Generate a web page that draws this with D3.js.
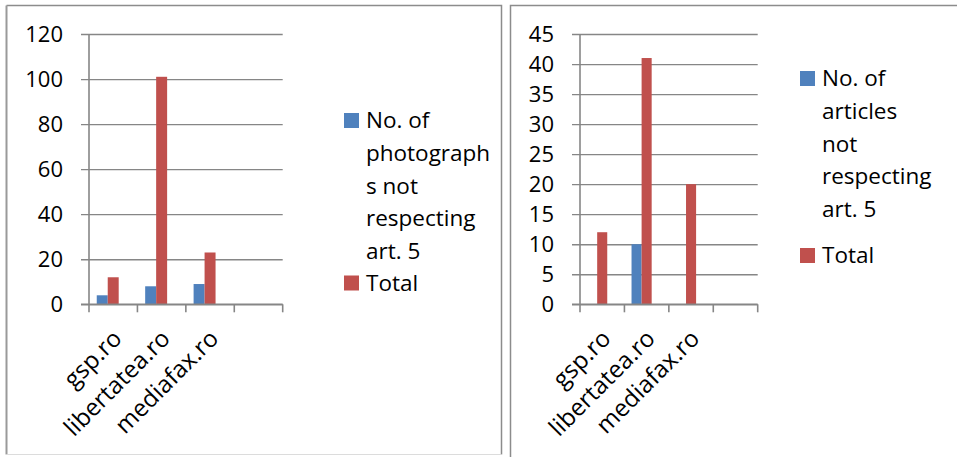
<!DOCTYPE html>
<meta charset="utf-8">
<script src="https://d3js.org/d3.v7.min.js"></script>
<title>Photographs and articles not respecting art. 5</title>
<style>
  body { margin: 0; background: #fff; }
  svg text { font-family: "Open Sans", "DejaVu Sans", sans-serif; fill: #000; }
  .grid line { stroke: #868686; stroke-width: 1.3; }
  .grid path { display: none; }
</style>
<body>
<script>
// data
var categories = ["gsp.ro", "libertatea.ro", "mediafax.ro", ""];
var seriesKeys = ["notRespecting", "total", "blank"];
var photosNotRespecting = [4, 8, 9, null];
var photosTotal = [12, 101, 23, null];
var articlesNotRespecting = [0, 10, 0, null];
var articlesTotal = [12, 41, 20, null];
var photoTicks = [0, 20, 40, 60, 80, 100, 120];
var articleTicks = [0, 5, 10, 15, 20, 25, 30, 35, 40, 45];
var photoLegend = [["No. of", "photograph", "s not", "respecting", "art. 5"], ["Total"]];
var articleLegend = [["No. of", "articles", "not", "respecting", "art. 5"], ["Total"]];

var colors = {notRespecting: "#4F81BD", total: "#C0504D", blank: "none"};

var svg = d3.select("body").append("svg")
    .attr("width", 957)
    .attr("height", 457);

// panel frames
svg.append("path")
    .attr("d", "M6.5,5.5H501.5V454.5")
    .attr("fill", "none").attr("stroke", "#8c8c8c").attr("stroke-width", 1.5);
svg.append("path")
    .attr("d", "M6.5,5.5V454.5")
    .attr("fill", "none").attr("stroke", "#9a9a9a").attr("stroke-width", 2);
svg.append("path")
    .attr("d", "M6.5,454.5H501.5")
    .attr("fill", "none").attr("stroke", "#dcdcdc").attr("stroke-width", 1);
svg.append("path")
    .attr("d", "M510.5,457V5.5H957")
    .attr("fill", "none").attr("stroke", "#8c8c8c").attr("stroke-width", 1.5);

function drawChart(opt) {
  var x0 = d3.scaleBand().domain(categories).range([opt.left, opt.right]);
  var bw = x0.bandwidth();
  var groupW = bw * 0.68;
  var x1 = d3.scaleBand().domain(seriesKeys).range([(bw - groupW) / 2, (bw + groupW) / 2]);
  var y = d3.scaleLinear().domain([0, opt.max]).range([304.3, 34]);

  var g = svg.append("g");

  // gridlines + y ticks
  var yAxisG = g.append("g")
      .attr("class", "grid")
      .attr("transform", "translate(" + opt.left + ",0)")
      .call(d3.axisLeft(y).tickValues(opt.ticks).tickSize(0).tickFormat(""));
  yAxisG.selectAll(".tick line")
      .attr("x1", -8)
      .attr("x2", opt.right - opt.left);

  g.selectAll(".ylab").data(opt.ticks).enter().append("text")
      .attr("class", "ylab")
      .attr("x", opt.left - 26)
      .attr("y", function(d) { return y(d); })
      .attr("dy", "0.36em")
      .attr("text-anchor", "end")
      .style("font-size", "22px")
      .text(function(d) { return d; });

  // bars
  var rows = categories.map(function(c, i) {
    return {cat: c, notRespecting: opt.a[i], total: opt.b[i], blank: null};
  });
  var groups = g.selectAll(".grp").data(rows).enter().append("g")
      .attr("transform", function(d) { return "translate(" + x0(d.cat) + ",0)"; });
  groups.selectAll("rect")
      .data(function(d) {
        return seriesKeys.map(function(k) { return {key: k, value: d[k]}; })
          .filter(function(e) { return e.value != null && e.value > 0; });
      })
      .enter().append("rect")
      .attr("x", function(d) { return x1(d.key); })
      .attr("width", x1.bandwidth())
      .attr("y", function(d) { return y(d.value); })
      .attr("height", function(d) { return y(0) - y(d.value); })
      .attr("fill", function(d) { return colors[d.key]; });

  // axes lines
  g.append("line")
      .attr("x1", opt.left).attr("x2", opt.left)
      .attr("y1", y(opt.max)).attr("y2", y(0))
      .attr("stroke", "#868686").attr("stroke-width", 1.6);
  g.append("line")
      .attr("x1", opt.left - 8).attr("x2", opt.right)
      .attr("y1", y(0)).attr("y2", y(0))
      .attr("stroke", "#868686").attr("stroke-width", 1.6);

  // category tick marks between categories
  var edges = categories.map(function(c) { return x0(c); }).concat([opt.right]);
  g.selectAll(".xtick").data(edges).enter().append("line")
      .attr("x1", function(d) { return d; }).attr("x2", function(d) { return d; })
      .attr("y1", y(0)).attr("y2", y(0) + 8)
      .attr("stroke", "#868686").attr("stroke-width", 1.6);

  // rotated category labels
  g.selectAll(".xlab").data(categories).enter().append("text")
      .attr("class", "xlab")
      .attr("transform", function(d) {
        return "translate(" + (x0(d) + bw / 2 + 4) + "," + 334 + ") rotate(-45)";
      })
      .attr("text-anchor", "end")
      .attr("dy", "0.35em")
      .style("font-size", "24px")
      .text(function(d) { return d; });

  // legend
  var lg = g.append("g");
  var lineH = 32.6;
  var keys = ["notRespecting", "total"];
  opt.legend.forEach(function(lines, i) {
    var top = opt.legendTop[i];
    lg.append("rect")
        .attr("x", opt.legendX).attr("y", top - 7.5)
        .attr("width", 15).attr("height", 15)
        .attr("fill", colors[keys[i]]);
    lines.forEach(function(t, j) {
      lg.append("text")
          .attr("x", opt.legendX + 22)
          .attr("y", top + j * lineH)
          .attr("dy", "0.35em")
          .style("font-size", "22.5px")
          .text(t);
    });
  });
}

drawChart({
  left: 89, right: 282.7, max: 120, ticks: photoTicks,
  a: photosNotRespecting, b: photosTotal,
  legend: photoLegend, legendX: 344, legendTop: [120.5, 283]
});

drawChart({
  left: 580, right: 757.7, max: 45, ticks: articleTicks,
  a: articlesNotRespecting, b: articlesTotal,
  legend: articleLegend, legendX: 800, legendTop: [78.5, 255.5]
});
</script>
</body>
